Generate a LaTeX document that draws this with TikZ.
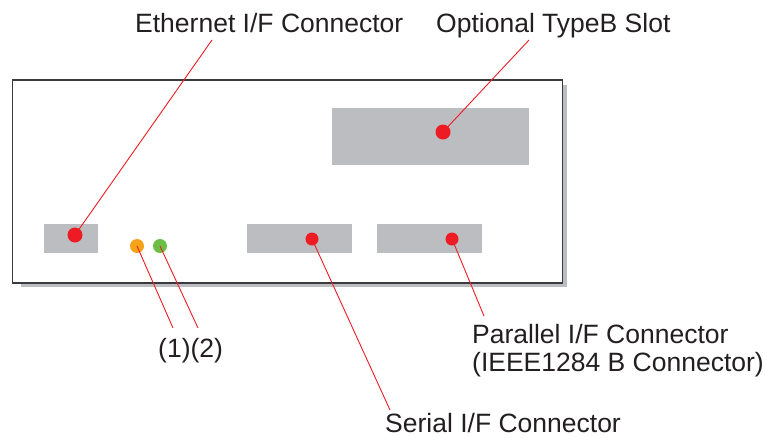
\documentclass[tikz,border=0pt]{standalone}
\usepackage{fontspec}
\setmainfont{Liberation Sans}
\definecolor{slotgray}{HTML}{BCBDC0}
\definecolor{shadowgray}{HTML}{BCBDC0}
\definecolor{framegray}{HTML}{3A3A3C}
\definecolor{pinred}{HTML}{ED1C24}
\definecolor{ledorange}{HTML}{F7A21B}
\definecolor{ledgreen}{HTML}{6DBE45}
\definecolor{txt}{HTML}{231F20}
\begin{document}
\begin{tikzpicture}[x=1pt,y=-1pt,
  slot/.style={fill=slotgray,draw=none},
  pin/.style={circle,fill=pinred,draw=none,inner sep=0pt,minimum size=#1},
  led/.style={circle,draw=none,inner sep=0pt,minimum size=14pt,fill=#1},
  leader/.style={draw=pinred,line width=0.9pt},
  lbl/.style={inner sep=0pt,text=txt,font=\fontsize{26.5}{28}\selectfont,align=left}]
\useasboundingbox (0,0) rectangle (766,437);
% panel with shadow
\fill[shadowgray] (21,85) rectangle (567,287);
\draw[framegray,fill=white,line width=1.5pt] (12.5,80) rectangle (562.5,283);
% slots
\fill[slot] (44,224) rectangle (98,253);
\fill[slot] (332,108) rectangle (529,165);
\fill[slot] (247,224) rectangle (352,253);
\fill[slot] (377,224) rectangle (482,253);
% dots
\node[pin=15pt] (eth) at (75,235) {};
\node[pin=15pt] (opt) at (443,132) {};
\node[pin=13pt] (ser) at (312,239) {};
\node[pin=13pt] (par) at (452,239) {};
\node[led=ledorange] (l1) at (137,246) {};
\node[led=ledgreen] (l2) at (160,246) {};
% free ends
\coordinate (ethE) at (212,40);
\coordinate (optE) at (529,40);
\coordinate (serE) at (390,410);
\coordinate (parE) at (484,316);
\coordinate (l1E) at (173,328);
\coordinate (l2E) at (198,328);
% leaders
\draw[leader] (eth.center) -- (ethE);
\draw[leader] (opt.center) -- (optE);
\draw[leader] (ser.center) -- (serE);
\draw[leader] (par.center) -- (parE);
\draw[leader] (l1.center) -- (l1E);
\draw[leader] (l2.center) -- (l2E);
% labels
\node[lbl,anchor=base west] (tEth) at (135,32) {Ethernet I/F Connector};
\node[lbl,anchor=base west] (tOpt) at (436,32) {Optional TypeB Slot};
\node[lbl,anchor=base west] (tPar) at (472,371) {Parallel I/F Connector\\(IEEE1284 B Connector)};
\node[lbl,anchor=base west] (tSer) at (385,432) {Serial I/F Connector};
\node[lbl,anchor=base west] (tLed) at (158,357) {(1)(2)};
\end{tikzpicture}
\end{document}
